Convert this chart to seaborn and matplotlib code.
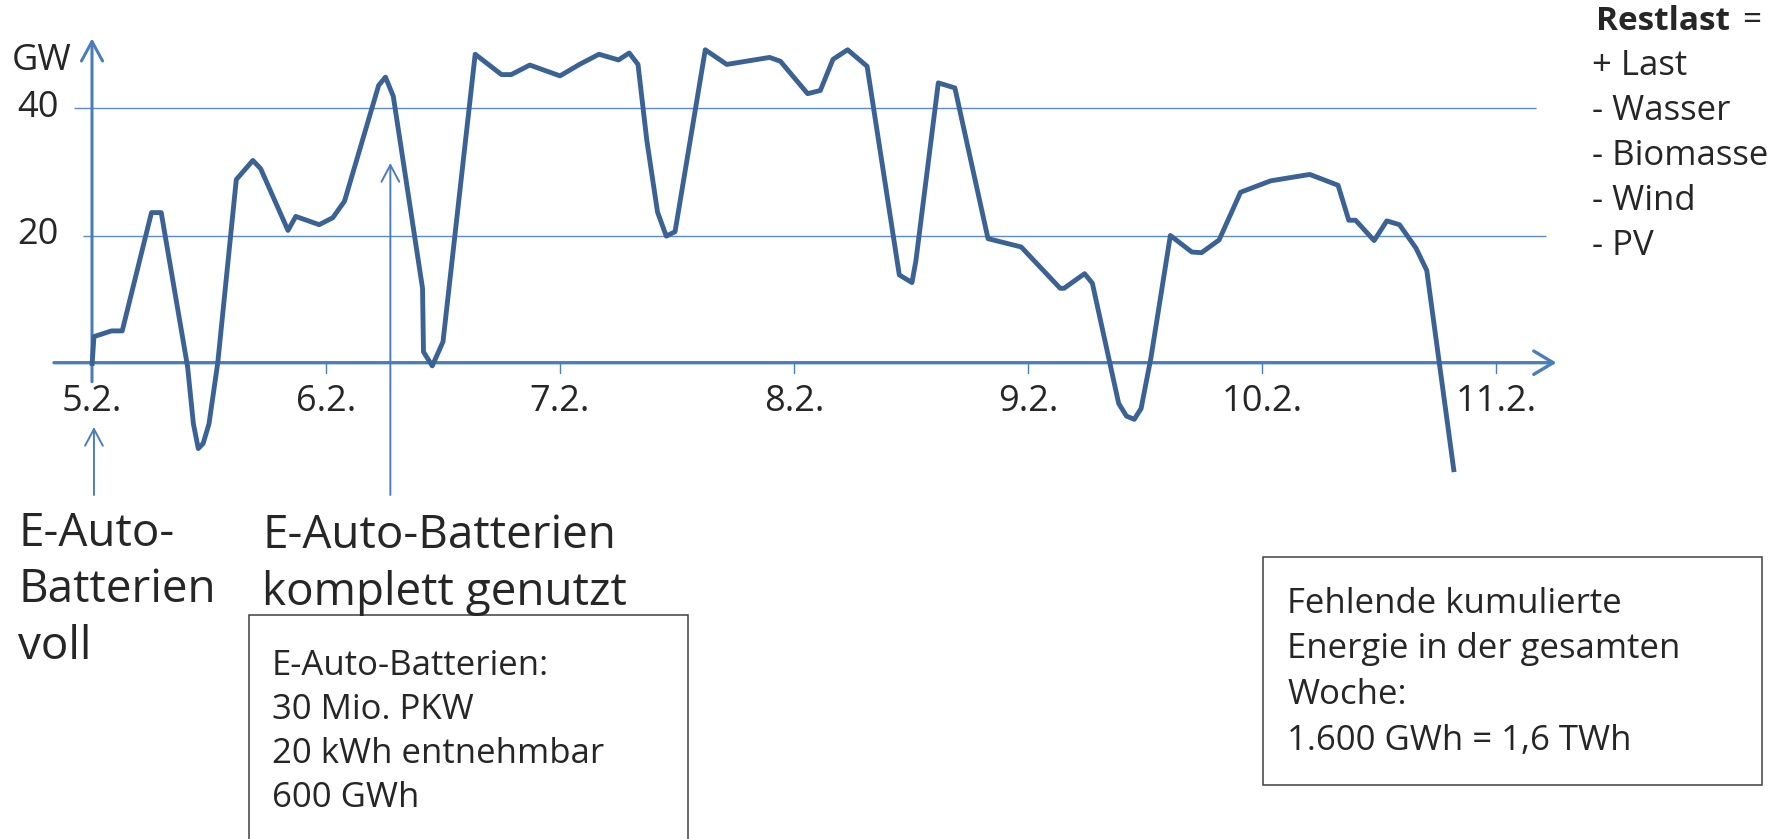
import matplotlib
matplotlib.use("Agg")
import matplotlib.pyplot as plt
from matplotlib.patches import Rectangle
import pandas as pd
import seaborn as sns

# Residual load over one week, hours counted from 5.2. 00:00
hours = [0.0, 0.2, 2.0, 3.1, 6.1, 7.1, 9.8, 10.4, 10.9, 11.4, 12.0, 12.9, 14.8, 16.5,
         17.3, 20.1, 20.9, 23.3, 24.7, 25.9, 29.4, 30.1, 30.9, 33.9, 34.0, 34.9, 36.0,
         39.3, 42.0, 43.0, 44.9, 48.0, 50.0, 52.0, 54.0, 55.1, 56.0, 56.9, 58.0, 58.9,
         59.8, 62.9, 65.1, 69.5, 70.6, 73.4, 74.7, 76.0, 77.5, 79.5, 82.8, 84.1, 84.5,
         86.8, 88.5, 91.9, 95.3, 99.3, 99.7, 101.8, 102.6, 105.3, 106.1, 106.9, 107.6,
         108.6, 110.6, 112.8, 113.8, 115.6, 117.8, 120.9, 124.9, 127.8, 128.9, 129.6,
         131.5, 132.8, 134.1, 135.8, 136.9, 139.7]
restlast_gw = [-0.5, 4.1, 5.0, 5.0, 23.6, 23.6, -0.6, -9.6, -13.5, -12.7, -9.6, 0.0, 28.8,
               31.8, 30.5, 20.8, 23.0, 21.7, 22.8, 25.4, 43.6, 44.9, 41.9, 11.7, 1.7, -0.5,
               3.3, 48.5, 45.3, 45.3, 46.8, 45.1, 46.9, 48.5, 47.6, 48.7, 46.9, 35.0, 23.7,
               19.9, 20.6, 49.2, 46.9, 48.0, 47.4, 42.3, 42.8, 47.7, 49.2, 46.6, 13.8, 12.6,
               16.0, 44.0, 43.2, 19.5, 18.2, 11.7, 11.7, 14.0, 12.5, -6.4, -8.4, -8.9, -7.2,
               0.7, 20.0, 17.4, 17.3, 19.3, 26.8, 28.6, 29.6, 27.9, 22.4, 22.4, 19.2, 22.3,
               21.7, 18.0, 14.5, -17.2]

day_labels = ["5.2.", "6.2.", "7.2.", "8.2.", "9.2.", "10.2.", "11.2."]
day_hours = [0, 24, 48, 72, 96, 120, 144]
gw_ticks = [20, 40]
legend_lines = ["+ Last", "- Wasser", "- Biomasse", "- Wind", "- PV"]
box_left_lines = ["E-Auto-Batterien:", "30 Mio. PKW", "20 kWh entnehmbar", "600 GWh"]
box_right_lines = ["Fehlende kumulierte", "Energie in der gesamten", "Woche:",
                   "1.600 GWh = 1,6 TWh"]

sns.set_style("white")
plt.rcParams["font.family"] = ["Open Sans", "DejaVu Sans"]

W, H = 1785, 839
fig = plt.figure(figsize=(W / 100, H / 100), dpi=100)
ax = fig.add_axes([0, 0, 1, 1])

# pixel geometry of the plotting frame
X0, PX_H = 92.0, 234.0 / 24.0
Y0, PX_GW = 362.7, 6.36
ax.set_xlim(-X0 / PX_H, (W - X0) / PX_H)
ax.set_ylim((Y0 - H) / PX_GW, Y0 / PX_GW)
ax.axis("off")

def fx(px):
    return px / W

def fy(py):
    return 1 - py / H

axis_c = "#4A7EBB"
grid_c = "#5B8BC8"
line_c = "#3B6294"

# gridlines
ax.hlines(40, -1.85, 148.1, color=grid_c, lw=1.0, zorder=1)
ax.hlines(20, -0.9, 149.1, color=grid_c, lw=1.0, zorder=1)

# axes with arrow heads
ax.annotate("", xy=(150.2, 0), xytext=(-3.9, 0),
            arrowprops=dict(arrowstyle="->,head_length=0.7,head_width=0.42",
                            mutation_scale=20, color=axis_c, lw=2.4,
                            shrinkA=0, shrinkB=0), zorder=2)
ax.annotate("", xy=(0, 51.0), xytext=(0, -3.0),
            arrowprops=dict(arrowstyle="->,head_length=0.7,head_width=0.38",
                            mutation_scale=20, color=axis_c, lw=2.2,
                            shrinkA=0, shrinkB=0), zorder=2)
for h in day_hours[1:]:
    ax.plot([h, h], [0, -1.6], color=axis_c, lw=1.0, zorder=2)

# residual load curve
df = pd.DataFrame({"Stunde": hours, "Restlast": restlast_gw})
sns.lineplot(data=df, x="Stunde", y="Restlast", ax=ax, color=line_c, lw=3.5,
             estimator=None, sort=False, zorder=3)
ax.lines[-1].set_solid_joinstyle("round")
ax.lines[-1].set_solid_capstyle("butt")
if ax.get_legend() is not None:
    ax.get_legend().remove()

# tick labels
for h, lab in zip(day_hours, day_labels):
    ax.text(h, (Y0 - 402) / PX_GW, lab, ha="center", va="center", fontsize=26)
for v in gw_ticks:
    ax.text(-33 / PX_H, v, str(v), ha="right", va="center", fontsize=26)
fig.text(fx(12), fy(61), "GW", ha="left", va="center", fontsize=26)

# right-hand legend text
fig.text(fx(1596), fy(21), "Restlast", ha="left", va="center", fontsize=24,
         fontweight="bold")
fig.text(fx(1742), fy(21), "=", ha="left", va="center", fontsize=24)
for i, t in enumerate(legend_lines):
    fig.text(fx(1592), fy(66 + 45 * i), t, ha="left", va="center", fontsize=25)

# annotation arrows
ann_c = "#4A7EBB"
ax.annotate("", xy=(0.2, (Y0 - 427) / PX_GW), xytext=(0.2, (Y0 - 495) / PX_GW),
            arrowprops=dict(arrowstyle="->,head_length=0.6,head_width=0.32",
                            mutation_scale=20, color=ann_c, lw=1.4,
                            shrinkA=0, shrinkB=0))
ax.annotate("", xy=(30.6, (Y0 - 163) / PX_GW), xytext=(30.6, (Y0 - 495) / PX_GW),
            arrowprops=dict(arrowstyle="->,head_length=0.6,head_width=0.32",
                            mutation_scale=20, color=ann_c, lw=1.4,
                            shrinkA=0, shrinkB=0))

# large annotations
for i, t in enumerate(["E-Auto-", "Batterien", "voll"]):
    fig.text(fx(18), fy(546 + 56.5 * i), t, ha="left", va="baseline", fontsize=33)
for i, t in enumerate(["E-Auto-Batterien", "komplett genutzt"]):
    fig.text(fx(262), fy(548 + 56.5 * i), t, ha="left", va="baseline", fontsize=33)

# info boxes
fig.patches.append(Rectangle((fx(249), fy(845)), (688 - 249) / W, (845 - 615) / H,
                             transform=fig.transFigure, fill=False,
                             edgecolor="#404040", lw=1.1))
for i, t in enumerate(box_left_lines):
    fig.text(fx(272), fy(666 + 44 * i), t, ha="left", va="center", fontsize=25)

fig.patches.append(Rectangle((fx(1263), fy(785)), (1762 - 1263) / W, (785 - 557) / H,
                             transform=fig.transFigure, fill=False,
                             edgecolor="#404040", lw=1.1))
for i, t in enumerate(box_right_lines):
    fig.text(fx(1287), fy(604 + 45.5 * i), t, ha="left", va="center", fontsize=25)

fig.savefig("out.png", dpi=100, facecolor="white")
